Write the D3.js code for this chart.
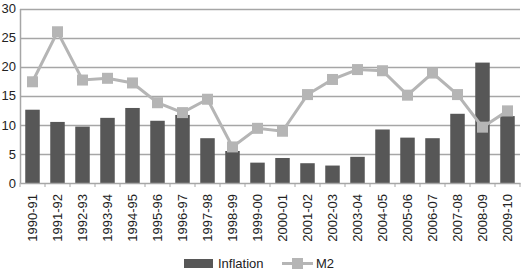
<!DOCTYPE html>
<html><head><meta charset="utf-8">
<script src="https://cdn.jsdelivr.net/npm/d3@7"></script>
<style>body{margin:0;background:#fff}svg{display:block;font-family:"Liberation Sans",Arial,sans-serif}</style>
</head><body><svg id="c" width="521" height="272"></svg>
<script>
const categories = ["1990-91","1991-92","1992-93","1993-94","1994-95","1995-96","1996-97","1997-98","1998-99","1999-00","2000-01","2001-02","2002-03","2003-04","2004-05","2005-06","2006-07","2007-08","2008-09","2009-10"];
const inflation = [12.6,10.5,9.7,11.2,12.9,10.7,11.7,7.7,5.5,3.5,4.3,3.4,3.0,4.5,9.2,7.8,7.7,11.9,20.7,11.5];
const m2 = [17.4,26.0,17.7,18.0,17.2,13.8,12.1,14.4,6.2,9.4,8.9,15.2,17.8,19.5,19.3,15.1,18.9,15.2,9.6,12.4];
const yTicks = [0,5,10,15,20,25,30];

const svg = d3.select("#c");
const L = 20, R = 520, T = 8.5, B = 183;
const x = d3.scaleBand().domain(categories).range([L, R]).paddingInner(0.42).paddingOuter(0.21);
const xb = d3.scaleBand().domain(categories).range([L, R]);
const y = d3.scaleLinear().domain([0, 30]).range([B, T]);

// gridlines
svg.append("g").selectAll("line").data(yTicks.filter(d => d > 0)).join("line")
  .attr("x1", L).attr("x2", R).attr("y1", d => Math.round(y(d)) + 0.5).attr("y2", d => Math.round(y(d)) + 0.5)
  .attr("stroke", "#a6a6a6").attr("stroke-width", 1.5);

// y axis
const ya = svg.append("g").attr("transform", `translate(${L},0)`)
  .call(d3.axisLeft(y).tickValues(yTicks).tickSize(0).tickPadding(4));
ya.select(".domain").attr("stroke", "#a6a6a6").attr("stroke-width", 1.5);
ya.selectAll("text").attr("font-size", 13).attr("fill", "#222").attr("font-family", "Liberation Sans, Arial, sans-serif");

// bars
svg.append("g").selectAll("rect").data(inflation).join("rect")
  .attr("x", (d, i) => x(categories[i])).attr("width", x.bandwidth())
  .attr("y", d => y(d)).attr("height", d => B - y(d)).attr("fill", "#575757");

// x axis
const xa = svg.append("g").attr("transform", `translate(0,${B})`)
  .call(d3.axisBottom(xb).tickSize(0));
xa.select(".domain").attr("stroke", "#a6a6a6").attr("stroke-width", 1.5);
xa.selectAll(".tick").remove();
svg.append("g").selectAll("line").data(categories.concat(["end"])).join("line")
  .attr("x1", (d, i) => L + i * xb.bandwidth()).attr("x2", (d, i) => L + i * xb.bandwidth())
  .attr("y1", B).attr("y2", B + 4).attr("stroke", "#a6a6a6").attr("stroke-width", 1);
svg.append("g").selectAll("text").data(categories).join("text")
  .attr("transform", d => `translate(${xb(d) + xb.bandwidth() / 2 + 4.5},${B + 11}) rotate(-90)`)
  .attr("text-anchor", "end").attr("font-size", 13).attr("fill", "#222").text(d => d);

// line
const line = d3.line().x((d, i) => xb(categories[i]) + xb.bandwidth() / 2).y(d => y(d));
svg.append("path").datum(m2).attr("d", line).attr("fill", "none").attr("stroke", "#b5b5b5").attr("stroke-width", 3);
svg.append("g").selectAll("rect").data(m2).join("rect")
  .attr("x", (d, i) => xb(categories[i]) + xb.bandwidth() / 2 - 5.5).attr("y", d => y(d) - 5.5)
  .attr("width", 11).attr("height", 11).attr("fill", "#b5b5b5");

// legend
const lg = svg.append("g");
lg.append("rect").attr("x", 184).attr("y", 259).attr("width", 29).attr("height", 9).attr("fill", "#575757");
lg.append("text").attr("x", 218).attr("y", 268).attr("font-size", 13).attr("fill", "#222").text("Inflation");
lg.append("line").attr("x1", 282).attr("x2", 313).attr("y1", 263.5).attr("y2", 263.5).attr("stroke", "#b5b5b5").attr("stroke-width", 3);
lg.append("rect").attr("x", 292).attr("y", 258).attr("width", 11).attr("height", 11).attr("fill", "#b5b5b5");
lg.append("text").attr("x", 316).attr("y", 268).attr("font-size", 13).attr("fill", "#222").text("M2");
</script></body></html>
